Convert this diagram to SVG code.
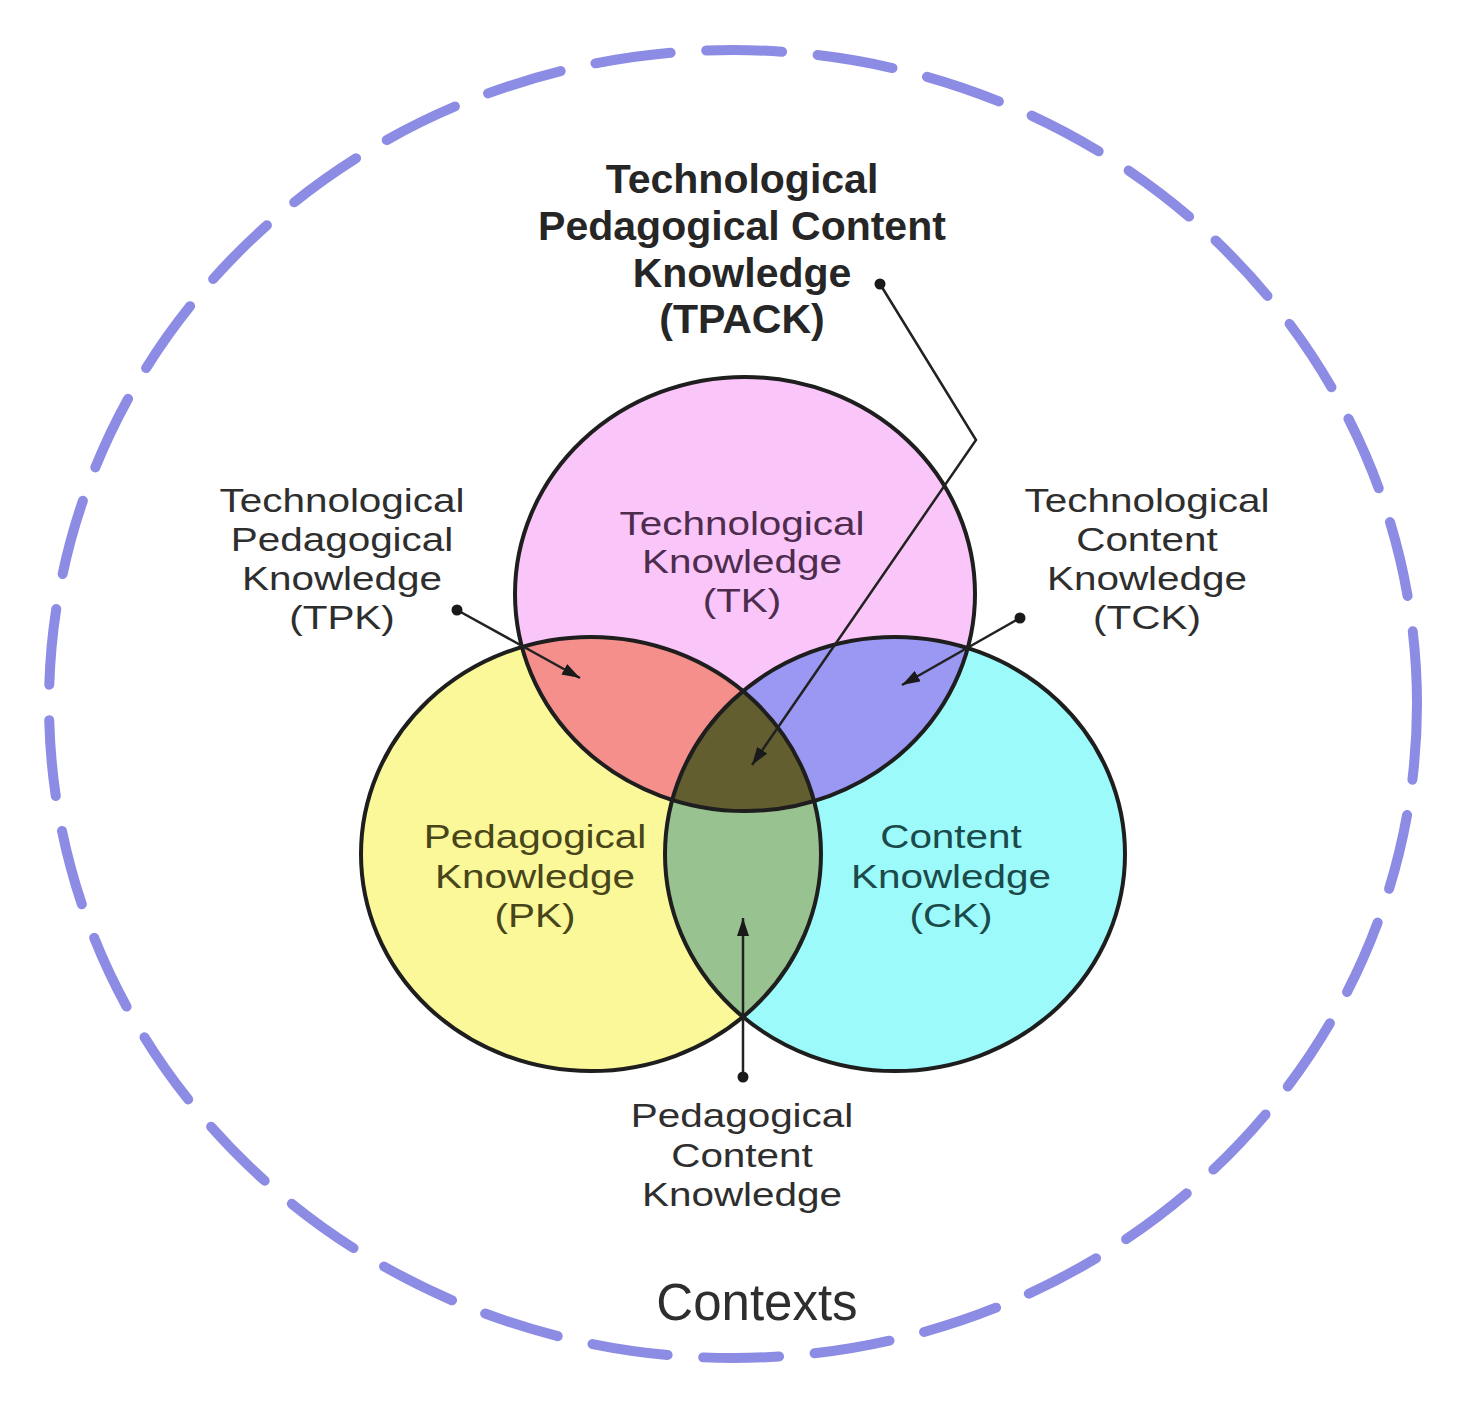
<svg xmlns="http://www.w3.org/2000/svg" width="1472" height="1402" viewBox="0 0 1472 1402">
  <style>
    .lbl { font-family: "Liberation Sans", Arial, sans-serif; font-size: 34px; text-anchor: middle; fill: #2e2e2e; }
    .bold { font-weight: bold; font-size: 41px; fill: #262626; }
    .tk-t { fill: #4d2c4d; }
    .pk-t { fill: #474519; }
    .ck-t { fill: #1b4a4b; }
    .outline { fill: none; stroke: #1e1e1e; stroke-width: 4; }
    .conn { fill: none; stroke: #222222; stroke-width: 2.5; }
    .dot { fill: #1a1a1a; }
  </style>
  <defs>
    <clipPath id="clipTK"><ellipse cx="745" cy="594" rx="230" ry="217"/></clipPath>
    <clipPath id="clipPK"><ellipse cx="591" cy="854" rx="230" ry="217"/></clipPath>
    <marker id="arrow" markerUnits="userSpaceOnUse" markerWidth="18" markerHeight="12" refX="18" refY="6" orient="auto">
      <path d="M0,0 L18,6 L0,12 z" fill="#1a1a1a"/>
    </marker>
  </defs>
  <rect x="0" y="0" width="1472" height="1402" fill="#ffffff"/>

  <g id="contexts">
    <ellipse cx="733" cy="704" rx="684" ry="654" fill="none" stroke="#8c8ce4" stroke-width="10" stroke-linecap="round" stroke-dasharray="76 35.65" pathLength="4204"/>
    <text class="lbl" x="757" y="1320" style="font-size:51px" fill="#2a2a2a">Contexts</text>
  </g>

  <g id="tk">
    <ellipse cx="745" cy="594" rx="230" ry="217" fill="#fac6fa"/>
  </g>
  <g id="pk">
    <ellipse cx="591" cy="854" rx="230" ry="217" fill="#faf898"/>
  </g>
  <g id="ck">
    <ellipse cx="895" cy="854" rx="230" ry="217" fill="#9cfafa"/>
  </g>
  <g id="tpk-region">
    <ellipse cx="591" cy="854" rx="230" ry="217" fill="#f58f8c" clip-path="url(#clipTK)"/>
  </g>
  <g id="tck-region">
    <ellipse cx="895" cy="854" rx="230" ry="217" fill="#9a98f2" clip-path="url(#clipTK)"/>
  </g>
  <g id="pck-region">
    <ellipse cx="895" cy="854" rx="230" ry="217" fill="#98c290" clip-path="url(#clipPK)"/>
  </g>
  <g id="tpack-region" clip-path="url(#clipTK)">
    <ellipse cx="895" cy="854" rx="230" ry="217" fill="#625e30" clip-path="url(#clipPK)"/>
  </g>
  <g id="outlines">
    <ellipse class="outline" cx="745" cy="594" rx="230" ry="217"/>
    <ellipse class="outline" cx="591" cy="854" rx="230" ry="217"/>
    <ellipse class="outline" cx="895" cy="854" rx="230" ry="217"/>
  </g>

  <g id="tk-label" transform="translate(742,0) scale(1.19,1)">
    <text class="lbl tk-t" x="0" y="535">Technological</text>
    <text class="lbl tk-t" x="0" y="573">Knowledge</text>
    <text class="lbl tk-t" x="0" y="612">(TK)</text>
  </g>
  <g id="pk-label" transform="translate(535,0) scale(1.19,1)">
    <text class="lbl pk-t" x="0" y="848">Pedagogical</text>
    <text class="lbl pk-t" x="0" y="888">Knowledge</text>
    <text class="lbl pk-t" x="0" y="927">(PK)</text>
  </g>
  <g id="ck-label" transform="translate(951,0) scale(1.19,1)">
    <text class="lbl ck-t" x="0" y="848">Content</text>
    <text class="lbl ck-t" x="0" y="888">Knowledge</text>
    <text class="lbl ck-t" x="0" y="927">(CK)</text>
  </g>

  <g id="tpack-label">
    <text class="lbl bold" x="742" y="193">Technological</text>
    <text class="lbl bold" x="742" y="240">Pedagogical Content</text>
    <text class="lbl bold" x="742" y="287">Knowledge</text>
    <text class="lbl bold" x="742" y="333">(TPACK)</text>
  </g>
  <g id="tpk-label" transform="translate(342,0) scale(1.19,1)">
    <text class="lbl" x="0" y="512">Technological</text>
    <text class="lbl" x="0" y="551">Pedagogical</text>
    <text class="lbl" x="0" y="590">Knowledge</text>
    <text class="lbl" x="0" y="629">(TPK)</text>
  </g>
  <g id="tck-label" transform="translate(1147,0) scale(1.19,1)">
    <text class="lbl" x="0" y="512">Technological</text>
    <text class="lbl" x="0" y="551">Content</text>
    <text class="lbl" x="0" y="590">Knowledge</text>
    <text class="lbl" x="0" y="629">(TCK)</text>
  </g>
  <g id="pck-label" transform="translate(742,0) scale(1.19,1)">
    <text class="lbl" x="0" y="1127">Pedagogical</text>
    <text class="lbl" x="0" y="1167">Content</text>
    <text class="lbl" x="0" y="1206">Knowledge</text>
  </g>

  <g id="connectors">
    <polyline class="conn" points="880,284 976,440 752,765" marker-end="url(#arrow)"/>
    <circle class="dot" cx="880" cy="284" r="5.5"/>
    <line class="conn" x1="457" y1="610" x2="580" y2="678" marker-end="url(#arrow)"/>
    <circle class="dot" cx="457" cy="610" r="5.5"/>
    <line class="conn" x1="1020" y1="618" x2="902" y2="685" marker-end="url(#arrow)"/>
    <circle class="dot" cx="1020" cy="618" r="5.5"/>
    <line class="conn" x1="743" y1="1077" x2="743" y2="918" marker-end="url(#arrow)"/>
    <circle class="dot" cx="743" cy="1077" r="5.5"/>
  </g>
</svg>
